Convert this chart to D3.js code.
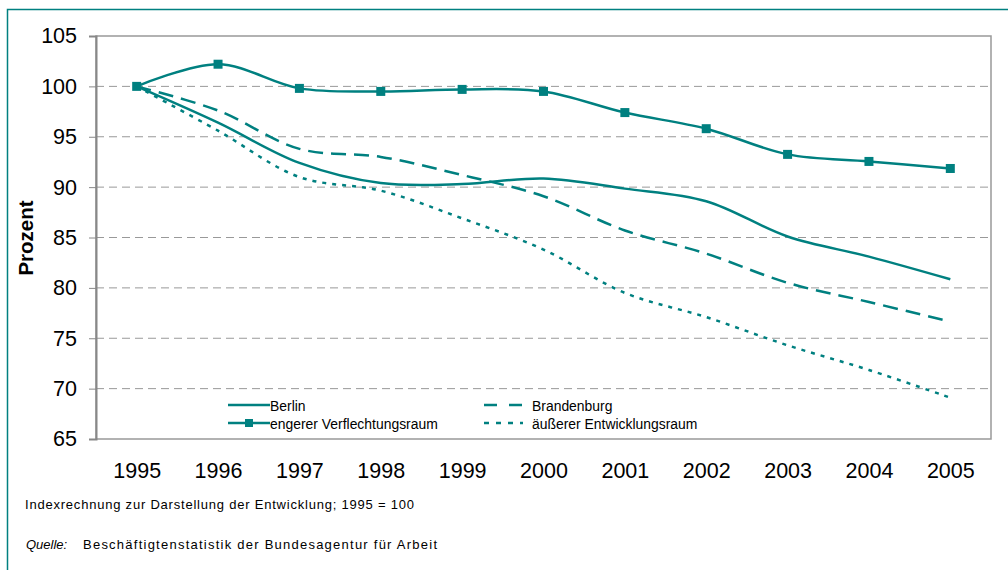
<!DOCTYPE html>
<html>
<head>
<meta charset="utf-8">
<script src="https://cdn.jsdelivr.net/npm/d3@7"></script>
<style>
  body { margin: 0; background: #fff; }
  svg { display: block; font-family: "Liberation Sans", Arial, sans-serif; }
</style>
</head>
<body>
<svg id="chart" width="1008" height="570"></svg>
<script>
const years = ['1995', '1996', '1997', '1998', '1999', '2000', '2001', '2002', '2003', '2004', '2005'];
const berlin = [100, 96.4, 92.4, 90.4, 90.3, 90.85, 89.85, 88.6, 85.1, 83.1, 80.85];
const brandenburg = [100, 97.6, 93.8, 93.0, 91.2, 89.1, 85.7, 83.4, 80.5, 78.6, 76.65];
const engerer = [100, 102.2, 99.8, 99.5, 99.7, 99.5, 97.4, 95.8, 93.25, 92.55, 91.85];
const aeusserer = [100, 95.6, 91.0, 89.65, 86.9, 83.8, 79.5, 77.1, 74.3, 71.85, 69.1];
const yTicks = [65, 70, 75, 80, 85, 90, 95, 100, 105];

const series = [
    { name: 'Berlin', values: berlin, dash: null, legendDash: null, marker: false },
    { name: 'Brandenburg', values: brandenburg, dash: '15,8', legendDash: '13,12', marker: false },
    { name: 'engerer Verflechtungsraum', values: engerer, dash: null, legendDash: null, marker: true },
    { name: 'äußerer Entwicklungsraum', values: aeusserer, dash: '4,6', legendDash: '5,7', marker: false }
];

const teal = '#008080';
const font = '"Liberation Sans", Arial, sans-serif';
const svg = d3.select('#chart');
const plot = { left: 96, right: 991, top: 36, bottom: 439 };

// outer frame (only top and left fall inside the picture)
svg.append('rect')
    .attr('x', 7.5).attr('y', 9.5)
    .attr('width', 1020).attr('height', 600)
    .attr('fill', 'none')
    .attr('stroke', teal)
    .attr('stroke-width', 1.5);

const x = d3.scalePoint()
    .domain(years)
    .range([plot.left, plot.right])
    .padding(0.5);

const y = d3.scaleLinear()
    .domain([65, 105])
    .range([plot.bottom, plot.top]);

// gridlines
svg.append('g')
    .selectAll('line')
    .data(yTicks.slice(1, -1))
    .enter()
    .append('line')
    .attr('x1', plot.left).attr('x2', plot.right)
    .attr('y1', d => y(d)).attr('y2', d => y(d))
    .attr('stroke', '#999')
    .attr('stroke-dasharray', '8,5');

// plot box
svg.append('rect')
    .attr('x', plot.left).attr('y', plot.top)
    .attr('width', plot.right - plot.left)
    .attr('height', plot.bottom - plot.top)
    .attr('fill', 'none')
    .attr('stroke', '#999')
    .attr('stroke-width', 1.5);

// y axis
const yAxis = svg.append('g')
    .attr('transform', `translate(${plot.left},0)`)
    .call(d3.axisLeft(y).tickValues(yTicks).tickSize(7).tickPadding(12));
yAxis.select('.domain').attr('stroke', '#888').attr('stroke-width', 2);
yAxis.selectAll('.tick line').attr('stroke', '#888');
yAxis.selectAll('.tick text')
    .attr('font-size', 21.5)
    .attr('font-family', font)
    .attr('fill', '#000');

// x axis labels
const xAxis = svg.append('g')
    .attr('transform', `translate(0,${plot.bottom})`)
    .call(d3.axisBottom(x).tickSize(0).tickPadding(24));
xAxis.select('.domain').remove();
xAxis.selectAll('.tick text')
    .attr('font-size', 21.5)
    .attr('font-family', font)
    .attr('fill', '#000');

// y title
svg.append('text')
    .attr('transform', 'translate(33,238) rotate(-90)')
    .attr('text-anchor', 'middle')
    .attr('font-size', 20.5)
    .attr('font-weight', 'bold')
    .text('Prozent');

// lines
const line = d3.line()
    .x((d, i) => x(years[i]))
    .y(d => y(d))
    .curve(d3.curveCatmullRom.alpha(0.5));

series.forEach(s => {
    svg.append('path')
        .datum(s.values)
        .attr('d', line)
        .attr('fill', 'none')
        .attr('stroke', teal)
        .attr('stroke-width', 2.5)
        .attr('stroke-dasharray', s.dash);
    if (s.marker) {
        svg.append('g')
            .selectAll('rect')
            .data(s.values)
            .enter()
            .append('rect')
            .attr('x', (d, i) => x(years[i]) - 4.5)
            .attr('y', d => y(d) - 4.5)
            .attr('width', 9).attr('height', 9)
            .attr('fill', teal);
    }
});

// legend
const legendPos = [
    { x: 228, y: 405 },
    { x: 484, y: 405 },
    { x: 228, y: 423 },
    { x: 484, y: 423 }
];
series.forEach((s, i) => {
    const p = legendPos[i];
    const g = svg.append('g').attr('transform', `translate(${p.x},${p.y})`);
    g.append('line')
        .attr('x1', 0).attr('x2', i % 2 ? 39 : 42)
        .attr('stroke', teal)
        .attr('stroke-width', 2.5)
        .attr('stroke-dasharray', s.legendDash);
    if (s.marker) {
        g.append('rect').attr('x', 17).attr('y', -4).attr('width', 8).attr('height', 8).attr('fill', teal);
    }
    g.append('text')
        .attr('transform', `translate(${i % 2 ? 48 : 42},5.5) scale(0.94,1)`)
        .attr('font-size', 14.8)
        .text(s.name);
});

// footer
svg.append('text')
    .attr('x', 25).attr('y', 509)
    .attr('font-size', 13)
    .attr('textLength', 389)
    .attr('lengthAdjust', 'spacing')
    .text('Indexrechnung zur Darstellung der Entwicklung; 1995 = 100');
svg.append('text')
    .attr('x', 26).attr('y', 549)
    .attr('font-size', 13)
    .attr('font-style', 'italic')
    .text('Quelle:');
svg.append('text')
    .attr('x', 83).attr('y', 549)
    .attr('font-size', 13)
    .attr('textLength', 354)
    .attr('lengthAdjust', 'spacing')
    .text('Beschäftigtenstatistik der Bundesagentur für Arbeit');
</script>
</body>
</html>
